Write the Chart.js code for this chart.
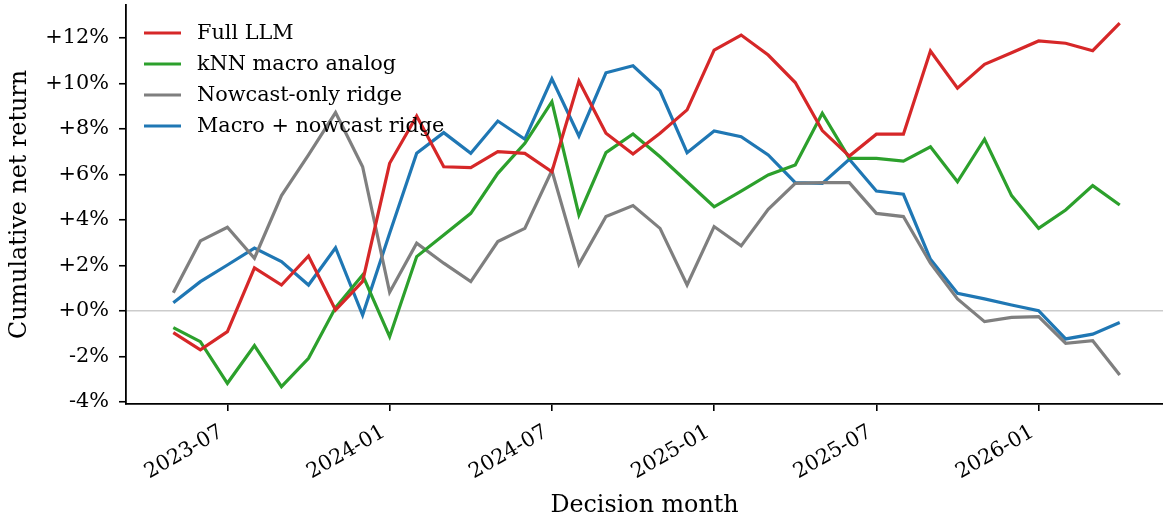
<!DOCTYPE html>
<html>
<head>
<meta charset="utf-8">
<script src="https://cdn.jsdelivr.net/npm/chart.js@4.4.1/dist/chart.umd.min.js"></script>
<style>
  html, body { margin: 0; padding: 0; background: #fff; }
  #wrap { width: 1163px; height: 522px; position: relative; }
</style>
</head>
<body>
<div id="wrap"><canvas id="c" width="1163" height="522"></canvas></div>
<script>
const months = ['2023-05','2023-06','2023-07','2023-08','2023-09','2023-10','2023-11','2023-12',
  '2024-01','2024-02','2024-03','2024-04','2024-05','2024-06','2024-07','2024-08','2024-09','2024-10','2024-11','2024-12',
  '2025-01','2025-02','2025-03','2025-04','2025-05','2025-06','2025-07','2025-08','2025-09','2025-10','2025-11','2025-12',
  '2026-01','2026-02','2026-03','2026-04'];

const fullLLM = [-0.95,-1.71,-0.91,1.89,1.14,2.42,0.04,1.30,6.49,8.57,6.34,6.30,7.00,6.93,6.12,10.11,7.81,6.90,7.81,8.84,
  11.47,12.13,11.25,10.04,7.93,6.81,7.77,7.77,11.43,9.79,10.84,11.35,11.87,11.77,11.44,12.65];
const knnMacro = [-0.73,-1.35,-3.18,-1.52,-3.33,-2.08,0.15,1.58,-1.13,2.39,3.34,4.29,6.05,7.37,9.20,4.22,6.96,7.78,6.78,5.68,
  4.58,5.27,5.98,6.42,8.69,6.71,6.71,6.59,7.22,5.68,7.55,5.07,3.63,4.44,5.51,4.66];
const nowcastRidge = [0.80,3.08,3.68,2.32,5.07,6.86,8.72,6.34,0.82,2.98,2.10,1.29,3.05,3.63,6.17,2.05,4.15,4.63,3.63,1.14,
  3.71,2.86,4.47,5.61,5.64,5.64,4.29,4.15,2.10,0.53,-0.47,-0.28,-0.25,-1.42,-1.31,-2.81];
const macroNowcast = [0.36,1.29,2.02,2.76,2.17,1.14,2.78,-0.18,3.42,6.93,7.84,6.93,8.35,7.55,10.20,7.69,10.47,10.78,9.68,6.96,
  7.91,7.66,6.86,5.64,5.61,6.67,5.27,5.13,2.27,0.78,0.53,0.26,0.01,-1.23,-1.02,-0.51];

const seriesNames = ['Full LLM','kNN macro analog','Nowcast-only ridge','Macro + nowcast ridge'];
const seriesColors = ['#d62728','#2ca02c','#7f7f7f','#1f77b4'];
const xTickLabels = ['2023-07','2024-01','2024-07','2025-01','2025-07','2026-01'];
const yTickValues = [-4,-2,0,2,4,6,8,10,12];

const FONT = '"DejaVu Serif", serif';
const TICK_SIZE = 20.8;
const allSeries = [fullLLM, knnMacro, nowcastRidge, macroNowcast];

const datasets = allSeries.map((arr, i) => ({
  label: seriesNames[i],
  data: arr.map((v, k) => ({ x: k, y: v })),
  borderColor: seriesColors[i],
  backgroundColor: seriesColors[i],
  borderWidth: 3.2,
  pointRadius: 0,
  tension: 0,
  fill: false
}));

const legendPlugin = {
  id: 'innerLegend',
  afterDatasetsDraw(chart) {
    const ctx = chart.ctx;
    ctx.save();
    ctx.font = TICK_SIZE + 'px ' + FONT;
    ctx.textBaseline = 'middle';
    ctx.textAlign = 'left';
    chart.data.datasets.forEach((ds, i) => {
      const y = 33 + i * 31;
      ctx.strokeStyle = ds.borderColor;
      ctx.lineWidth = 3.2;
      ctx.beginPath();
      ctx.moveTo(144, y);
      ctx.lineTo(181, y);
      ctx.stroke();
      ctx.fillStyle = '#000';
      ctx.fillText(ds.label, 197, y + 1);
    });
    ctx.restore();
  }
};

new Chart(document.getElementById('c'), {
  type: 'line',
  data: { datasets },
  options: {
    responsive: false,
    animation: false,
    layout: { padding: { top: 5, right: 0, left: 0, bottom: 0 } },
    plugins: { legend: { display: false }, tooltip: { enabled: false } },
    scales: {
      x: {
        type: 'linear',
        min: -1.75,
        max: 36.6,
        afterBuildTicks: (s) => { s.ticks = xTickLabels.map(l => ({ value: months.indexOf(l) })); },
        afterFit: (s) => { s.height = 118; s.paddingLeft = 0; s.paddingRight = 0; },
        ticks: {
          autoSkip: false,
          minRotation: 30,
          maxRotation: 30,
          padding: 9,
          labelOffset: -6,
          color: '#000',
          font: { family: FONT, size: TICK_SIZE },
          callback: (v) => months[v]
        },
        grid: { drawOnChartArea: false, color: '#000', tickColor: '#000', tickLength: 7, lineWidth: 1.6 },
        border: { color: '#000', width: 1.8 },
        title: { display: true, text: 'Decision month', color: '#000', font: { family: FONT, size: 23.8 }, padding: { top: 0, bottom: 2 } }
      },
      y: {
        type: 'linear',
        min: -4.09,
        max: 13.45,
        afterBuildTicks: (s) => { s.ticks = yTickValues.map(v => ({ value: v })); },
        afterFit: (s) => { s.width = 126; s.paddingTop = 0; s.paddingBottom = 0; },
        ticks: {
          padding: 10,
          color: '#000',
          font: { family: FONT, size: TICK_SIZE },
          callback: (v) => (v >= 0 ? '+' : '') + v + '%'
        },
        grid: {
          color: (c) => (c.tick && c.tick.value === 0 ? '#cccccc' : 'rgba(0,0,0,0)'),
          lineWidth: 1.5,
          tickColor: '#000',
          tickLength: 7,
          tickWidth: 1.6
        },
        border: { color: '#000', width: 1.8 },
        title: { display: true, text: 'Cumulative net return', color: '#000', font: { family: FONT, size: 23.8 }, padding: { top: 6, bottom: 0 } }
      }
    }
  },
  plugins: [legendPlugin]
});
</script>
</body>
</html>
